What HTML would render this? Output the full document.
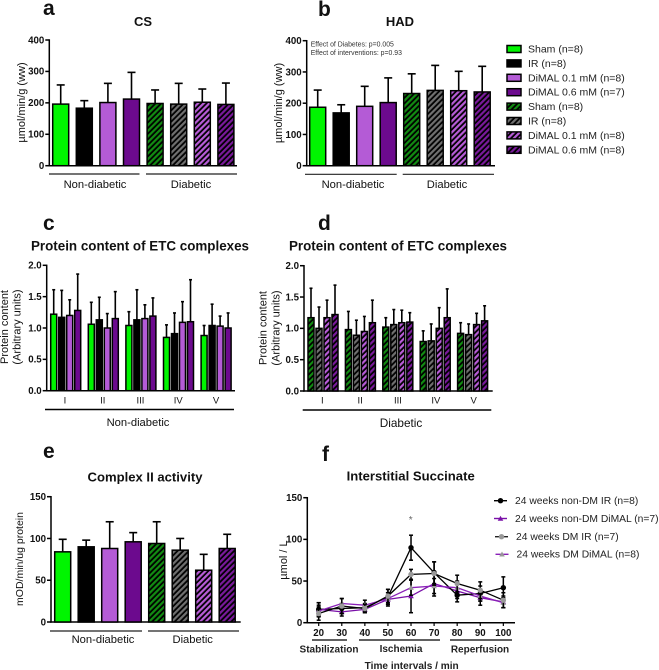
<!DOCTYPE html>
<html lang="en">
<head>
<meta charset="utf-8">
<title>Metabolic enzyme chart panels</title>
<style>
html,body{margin:0;padding:0;background:#fff;width:659px;height:670px;overflow:hidden}
svg{display:block}
text{font-family:"Liberation Sans",sans-serif;fill:#111}
</style>
</head>
<body>
<svg id="chart" xmlns="http://www.w3.org/2000/svg" width="659" height="670" viewBox="0 0 659 670">
<defs>
<pattern id="h-green" patternUnits="userSpaceOnUse" width="4" height="4" patternTransform="rotate(45)"><rect width="4" height="4" fill="#000"/><rect width="2.2" height="4" fill="#128c12"/></pattern>
<pattern id="h-gray" patternUnits="userSpaceOnUse" width="4" height="4" patternTransform="rotate(45)"><rect width="4" height="4" fill="#000"/><rect width="2.2" height="4" fill="#707070"/></pattern>
<pattern id="h-lilac" patternUnits="userSpaceOnUse" width="4" height="4" patternTransform="rotate(45)"><rect width="4" height="4" fill="#000"/><rect width="2.2" height="4" fill="#b85cd8"/></pattern>
<pattern id="h-purple" patternUnits="userSpaceOnUse" width="4" height="4" patternTransform="rotate(45)"><rect width="4" height="4" fill="#000"/><rect width="2.2" height="4" fill="#7a1a9c"/></pattern>
</defs>
</svg>
<script>
// ---- chart data ----
const groupFills = ['#00f500', '#000000', '#b45bd6', '#6c0a8e', 'url(#h-green)', 'url(#h-gray)', 'url(#h-lilac)', 'url(#h-purple)'];
const legendLabels = ['Sham (n=8)', 'IR (n=8)', 'DiMAL 0.1 mM (n=8)', 'DiMAL 0.6 mM (n=7)', 'Sham (n=8)', 'IR (n=8)', 'DiMAL 0.1 mM (n=8)', 'DiMAL 0.6 mM (n=8)'];
const csValues = [196, 183, 201, 212, 198, 196, 202, 195];
const csTops = [257, 207, 262, 297, 241, 262, 244, 263];
const hadValues = [187, 169, 190, 202, 231, 241, 240, 236];
const hadTops = [242, 195, 254, 281, 294, 321, 302, 318];
const ticks400 = [0, 100, 200, 300, 400];
const complexLabels = ['I', 'II', 'III', 'IV', 'V'];
const ticks2 = ['0.0', '0.5', '1.0', '1.5', '2.0'];
const etcNonDmValues = [1.22, 1.17, 1.2, 1.28, 1.06, 1.13, 1.0, 1.15, 1.04, 1.13, 1.15, 1.19, 0.85, 0.91, 1.09, 1.1, 0.88, 1.04, 1.03, 1.0];
const etcNonDmTops = [1.61, 1.6, 1.45, 1.86, 1.41, 1.49, 1.23, 1.58, 1.26, 1.61, 1.37, 1.48, 1.05, 1.24, 1.42, 1.77, 1.04, 1.38, 1.19, 1.24];
const etcDmValues = [1.17, 1.0, 1.17, 1.22, 0.98, 0.89, 0.95, 1.09, 1.02, 1.06, 1.09, 1.1, 0.79, 0.8, 1.0, 1.17, 0.92, 0.9, 1.06, 1.12];
const etcDmTops = [1.64, 1.34, 1.45, 1.69, 1.27, 1.13, 1.19, 1.45, 1.17, 1.3, 1.29, 1.25, 0.96, 1.07, 1.33, 1.63, 1.09, 1.07, 1.24, 1.36];
const complexIIValues = [84, 90, 88, 96, 94, 86, 62, 88];
const complexIITops = [99, 98, 120, 107, 120, 100, 81, 105];
const ticks150 = [0, 50, 100, 150];
const timeLabels = [20, 30, 40, 50, 60, 70, 80, 90, 100];
const seriesNames = ['24 weeks non-DM IR (n=8)', '24 weeks non-DM DiMAL (n=7)', '24 weeks DM IR (n=7)', '24 weeks DM DiMAL (n=8)'];
const irNonDm = [16, 17, 18, 31, 90, 60, 33, 35, 42];
const irNonDmErr = [8, 6, 5, 9, 15, 13, 8, 9, 13];
const dimalNonDm = [16, 13, 16, 28, 32, 47, 38, 30, 25];
const dimalNonDmErr = [8, 5, 4, 8, 20, 15, 9, 9, 7];
const irDm = [11, 20, 17, 32, 58, 59, 47, 39, 27];
const irDmErr = [8, 9, 5, 8, 6, 14, 10, 10, 9];
const dimalDm = [14, 23, 21, 29, 42, 44, 42, 32, 24];
const dimalDmErr = [7, 6, 6, 7, 9, 9, 8, 6, 6];

// ---- helpers ----
const svg = document.getElementById('chart');
const NS = 'http://www.w3.org/2000/svg';
function mk(tag, props, parent) {
  const e = document.createElementNS(NS, tag);
  for (const k in props) e.setAttribute(k, props[k]);
  (parent || svg).appendChild(e);
  return e;
}
function line(x1, y1, x2, y2, w, color, name) {
  const e = mk('line', {x1: x1, y1: y1, x2: x2, y2: y2, stroke: color || '#000', 'stroke-width': w || 1.5});
  
  
  return e;
}
function label(s, x, y, size, opts, name) {
  const o = opts || {};
  const e = mk('text', {x: x, y: y, 'font-size': size, 'text-anchor': o.anchor || 'middle', 'font-weight': o.bold ? 'bold' : 'normal'});
  if (o.fill) e.setAttribute('style', 'fill:' + o.fill);
  if (o.rotate) e.setAttribute('transform', 'rotate(-90 ' + x + ' ' + y + ')');
  e.textContent = s;
  
  
  return e;
}
function yScale(y0, yTop, max) {
  return function (v) { return y0 + (yTop - y0) * v / max; };
}
function yAxis(x, y, ticks, xEnd, y0, yTop) {
  line(x, yTop - 0.7, x, y0 + 0.7, 1.5, '#000', 'y-axis');
  line(x - 0.7, y0, xEnd, y0, 1.5, '#000', 'x-axis');
  ticks.forEach(function (t) {
    line(x - 4, y(+t), x, y(+t), 1.5, '#000', 'y-tick');
    label(String(t), x - 5, y(+t) + 3.3, 9.7, {anchor: 'end', bold: true}, 'y-tick-label');
  });
}
function bar(cx, w, y, y0, val, top, fill, cap, sw) {
  const ey = mk('line', {x1: cx, x2: cx, y1: y(val), y2: y(top), stroke: '#000', 'stroke-width': sw});
  
  
  const ec = mk('line', {x1: cx - cap, x2: cx + cap, y1: y(top), y2: y(top), stroke: '#000', 'stroke-width': sw});
  
  
  const r = mk('rect', {x: cx - w / 2, y: y(val), width: w, height: y0 - y(val), fill: fill, stroke: '#000', 'stroke-width': 1.5});
  
  
}
function eightBars(x0, step, w, y, y0, values, tops) {
  values.forEach(function (v, i) {
    bar(x0 + step * i, w, y, y0, v, tops[i], groupFills[i], 4, 1.6);
  });
}
function etcBars(x0, groupStep, barStep, y, y0, values, tops, fills) {
  values.forEach(function (v, i) {
    const g = Math.floor(i / 4), k = i % 4;
    bar(x0 + groupStep * g + barStep * k, 6, y, y0, v, tops[i], fills[k], 1.5, 1.6);
  });
}

// ---- panel a ----
label('a', 43, 15, 21, {anchor: 'start', bold: true}, 'panel-letter-a');
label('CS', 143, 26, 13, {bold: true}, 'chart-title-cs');
label('\u00b5mol/min/g (ww)', 25, 102.5, 11, {rotate: true}, 'y-axis-title-cs');
const yA = yScale(165.7, 40, 400);
yAxis(49.3, yA, ticks400, 237, 165.7, 40);
eightBars(60.7, 23.6, 16, yA, 165.7, csValues, csTops);
line(49, 174, 139.5, 174, 1.2, '#222', 'non-diabetic-bracket');
line(146, 174, 237, 174, 1.2, '#222', 'diabetic-bracket');
label('Non-diabetic', 95, 188, 11.2, {}, 'group-label-non-diabetic');
label('Diabetic', 191, 188, 11.2, {}, 'group-label-diabetic');

// ---- panel b ----
label('b', 318, 16, 21, {anchor: 'start', bold: true}, 'panel-letter-b');
label('HAD', 400, 26, 13, {bold: true}, 'chart-title-had');
label('\u00b5mol/min/g (ww)', 282, 103, 11, {rotate: true}, 'y-axis-title-had');
const yB = yScale(165.7, 40.7, 400);
yAxis(306.7, yB, ticks400, 495, 165.7, 40.7);
eightBars(317.7, 23.5, 16, yB, 165.7, hadValues, hadTops);
line(305, 174.3, 396.7, 174.3, 1.2, '#222', 'non-diabetic-bracket');
line(402.7, 174.3, 494, 174.3, 1.2, '#222', 'diabetic-bracket');
label('Non-diabetic', 353, 188, 11.2, {}, 'group-label-non-diabetic');
label('Diabetic', 447, 188, 11.2, {}, 'group-label-diabetic');
label('Effect of Diabetes: p=0.005', 310.7, 46.5, 6.9, {anchor: 'start', fill: '#333'}, 'effect-of-diabetes-note');
label('Effect of interventions: p=0.93', 310.7, 55, 6.9, {anchor: 'start', fill: '#333'}, 'effect-of-interventions-note');

// ---- shared legend ----
legendLabels.forEach(function (t, i) {
  const ly = 49 + 14.4 * i;
  const s = mk('rect', {x: 507, y: ly - 3.5, width: 14, height: 7, fill: groupFills[i], stroke: '#000', 'stroke-width': 1.5});
  
  
  label(t, 528, ly + 3.5, 10.5, {anchor: 'start', fill: '#222'}, 'legend-entry');
});

// ---- panel c ----
label('c', 43, 230, 21, {anchor: 'start', bold: true}, 'panel-letter-c');
label('Protein content of ETC complexes', 140, 250.7, 13.4, {bold: true}, 'chart-title-etc-non-diabetic');
label('Protein content', 8, 327, 11, {rotate: true}, 'y-axis-title-line-1');
label('(Arbitrary units)', 20.5, 327, 11, {rotate: true}, 'y-axis-title-line-2');
const yC = yScale(390.7, 265.3, 2);
yAxis(46.7, yC, ticks2, 235, 390.7, 265.3);
etcBars(53.7, 37.6, 8, yC, 390.7, etcNonDmValues, etcNonDmTops, groupFills.slice(0, 4));
complexLabels.forEach(function (t, i) {
  label(t, 65 + 37.75 * i, 403.7, 9.5, {}, 'complex-label');
});
line(45, 409.5, 234, 409.5, 1.5, '#000', 'non-diabetic-bracket');
label('Non-diabetic', 138, 426, 11.2, {}, 'group-label-non-diabetic');

// ---- panel d ----
label('d', 318, 230, 21, {anchor: 'start', bold: true}, 'panel-letter-d');
label('Protein content of ETC complexes', 398, 250.7, 13.4, {bold: true}, 'chart-title-etc-diabetic');
label('Protein content', 266.5, 328, 11, {rotate: true}, 'y-axis-title-line-1');
label('(Arbitrary units)', 279.5, 328, 11, {rotate: true}, 'y-axis-title-line-2');
const yD = yScale(391, 265.7, 2);
yAxis(304, yD, ticks2, 492.7, 391, 265.7);
etcBars(311, 37.4, 8, yD, 391, etcDmValues, etcDmTops, groupFills.slice(4, 8));
complexLabels.forEach(function (t, i) {
  label(t, 322.3 + 37.85 * i, 403.7, 9.5, {}, 'complex-label');
});
line(302.7, 410, 491.3, 410, 1.5, '#000', 'diabetic-bracket');
label('Diabetic', 401, 427, 11.8, {}, 'group-label-diabetic');

// ---- panel e ----
label('e', 43, 458, 21, {anchor: 'start', bold: true}, 'panel-letter-e');
label('Complex II activity', 145, 481.7, 13.1, {bold: true}, 'chart-title-complex-ii');
label('mOD/min/ug protein', 23, 559, 10.5, {rotate: true}, 'y-axis-title-complex-ii');
const yE = yScale(622, 496.7, 150);
yAxis(51, yE, ticks150, 240.7, 622, 496.7);
eightBars(62.7, 23.5, 16, yE, 622, complexIIValues, complexIITops);
line(50, 631, 142, 631, 1.2, '#222', 'non-diabetic-bracket');
line(148, 631, 239, 631, 1.2, '#222', 'diabetic-bracket');
label('Non-diabetic', 103, 643, 11.2, {}, 'group-label-non-diabetic');
label('Diabetic', 192.7, 643, 11.2, {}, 'group-label-diabetic');

// ---- panel f ----
label('f', 322, 461, 21, {anchor: 'start', bold: true}, 'panel-letter-f');
label('Interstitial Succinate', 410.7, 480.7, 13.1, {bold: true}, 'chart-title-succinate');
label('\u00b5mol / L', 287, 560, 11, {rotate: true}, 'y-axis-title-succinate');
const yF = yScale(622.7, 497.7, 150);
const xF = function (i) { return 318.7 + 23.08 * i; };
yAxis(307.3, yF, ticks150, 515, 622.7, 497.7);
timeLabels.forEach(function (t, i) {
  line(xF(i), 622.7, xF(i), 626, 1.2, '#000', 'x-tick');
  label(String(t), xF(i), 636, 9.7, {bold: true}, 'x-tick-label');
});
line(312, 640, 347, 640, 1.3, '#000', 'stabilization-bracket');
line(359, 640, 440, 640, 1.3, '#000', 'ischemia-bracket');
line(450, 640, 512, 640, 1.3, '#000', 'reperfusion-bracket');
label('Stabilization', 329, 652.7, 10, {bold: true, fill: '#222'}, 'phase-label-stabilization');
label('Ischemia', 401, 652, 10, {bold: true, fill: '#222'}, 'phase-label-ischemia');
label('Reperfusion', 480, 652.7, 10, {bold: true, fill: '#222'}, 'phase-label-reperfusion');
label('Time intervals / min', 411.7, 669, 10.1, {bold: true, fill: '#222'}, 'x-axis-title');
label('*', 410.7, 523, 10, {fill: '#666'}, 'significance-star');

function marker(kind, x, y, fill) {
  let m;
  if (kind === 'circle') {
    m = mk('circle', {cx: x, cy: y, r: 2.7, fill: fill});
  } else {
    m = mk('polygon', {points: (x - 2.8) + ',' + (y + 2.2) + ' ' + (x + 2.8) + ',' + (y + 2.2) + ' ' + x + ',' + (y - 2.8), fill: fill});
  }
  
  
}
function series(vals, errs, lineColor, kind, markFill) {
  vals.forEach(function (v, i) {
    const x = xF(i);
    line(x, yF(v - errs[i]), x, yF(v + errs[i]), 1.5, '#000', 'series-error-bar');
    line(x - 2, yF(v + errs[i]), x + 2, yF(v + errs[i]), 1.5, '#000', 'series-error-cap');
    line(x - 2, yF(v - errs[i]), x + 2, yF(v - errs[i]), 1.5, '#000', 'series-error-cap');
  });
  const p = mk('polyline', {points: vals.map(function (v, i) { return xF(i) + ',' + yF(v); }).join(' '), fill: 'none', stroke: lineColor, 'stroke-width': 1.3});
  
  
  vals.forEach(function (v, i) { marker(kind, xF(i), yF(v), markFill); });
}
series(dimalNonDm, dimalNonDmErr, '#7a10a8', 'tri', '#7a10a8');
series(irNonDm, irNonDmErr, '#000', 'circle', '#000');
series(dimalDm, dimalDmErr, '#8a20b8', 'tri', '#999');
series(irDm, irDmErr, '#000', 'circle', '#999');

const legendStyle = [['#000', 'circle', '#000', 494, 515, 500.7], ['#7a10a8', 'tri', '#7a10a8', 494, 515, 518.5], ['#222', 'circle', '#999', 495, 516, 536.7], ['#8a20b8', 'tri', '#999', 495.5, 516.5, 554.3]];
seriesNames.forEach(function (t, i) {
  const s = legendStyle[i];
  line(s[3], s[5], s[3] + 13, s[5], 1.4, s[0], 'series-legend-line');
  marker(s[1], s[3] + 6.5, s[5], s[2]);
  label(t, s[4], s[5] + 3.4, 10.3, {anchor: 'start', fill: '#222'}, 'series-legend-entry');
});
</script>
</body>
</html>
